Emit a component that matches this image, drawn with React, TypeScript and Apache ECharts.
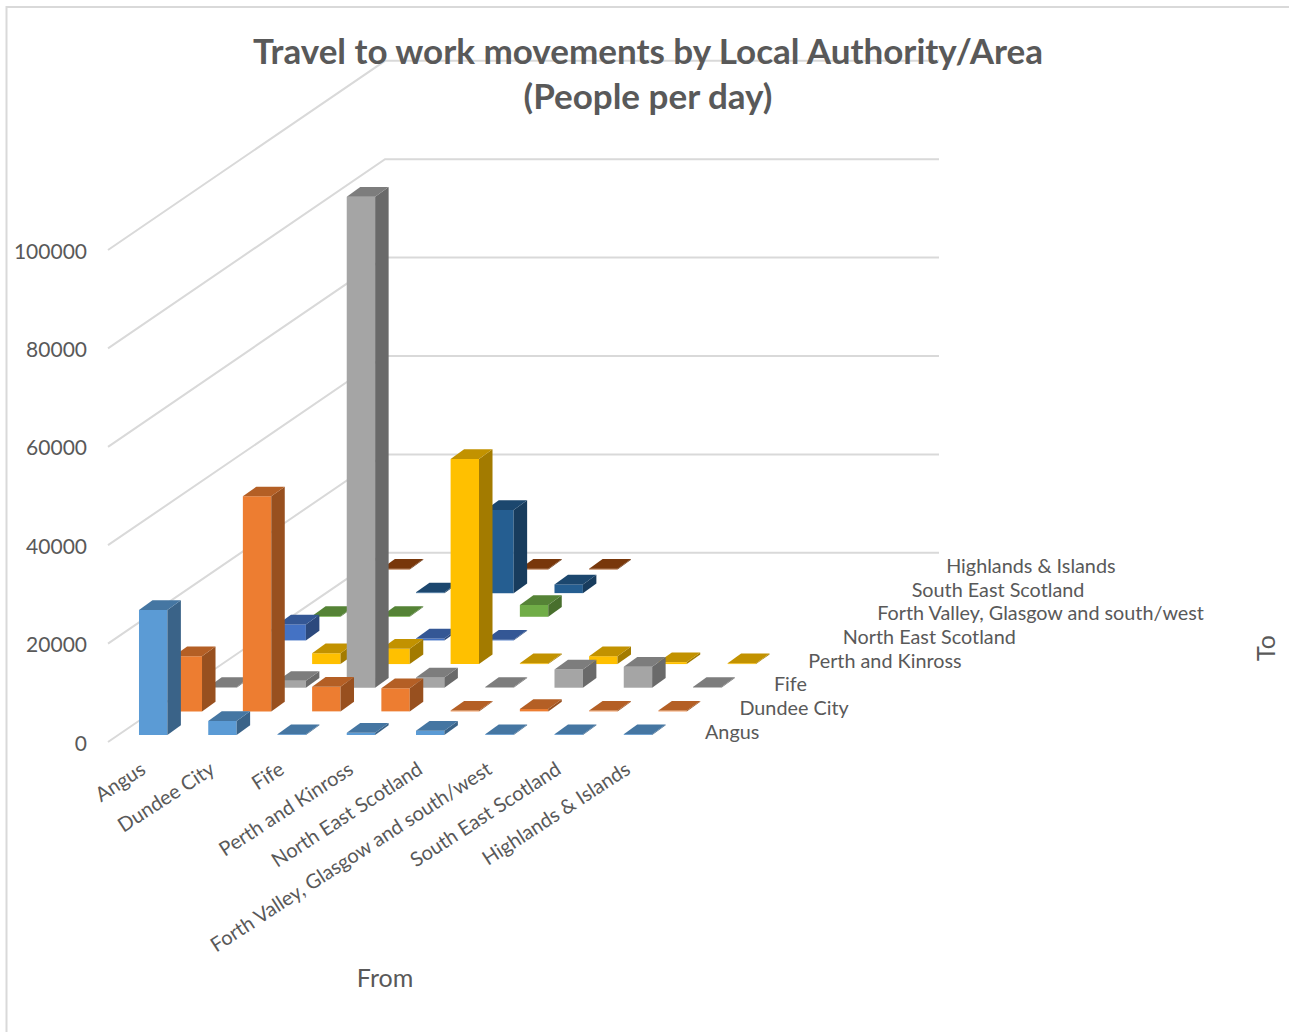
import React, { useEffect, useRef } from "react";
import * as echarts from "echarts";

// Origin areas along the front edge of the floor.
const fromAreas = [
  "Angus",
  "Dundee City",
  "Fife",
  "Perth and Kinross",
  "North East Scotland",
  "Forth Valley, Glasgow and south/west",
  "South East Scotland",
  "Highlands & Islands",
];

// Destination areas, front row to back row.
const toAreas = [
  "Angus",
  "Dundee City",
  "Fife",
  "Perth and Kinross",
  "North East Scotland",
  "Forth Valley, Glasgow and south/west",
  "South East Scotland",
  "Highlands & Islands",
];

const yTicks = [0, 20000, 40000, 60000, 80000, 100000];

// People per day travelling to each destination, indexed by origin.
const toAngus = [25400, 2850, 80, 450, 880, 80, 60, 60];
const toDundee = [11200, 43700, 5000, 4700, 80, 500, 100, 80];
const toFife = [120, 1400, 99800, 2100, 80, 3700, 4250, 80];
const toPerth = [null, 2200, 3100, 41700, 80, 1600, 400, 80];
const toNorthEast = [3250, null, 400, 80, null, null, null, null];
const toForthValley = [80, 80, null, 2400, null, null, null, null];
const toSouthEast = [null, 80, 16900, 1770, null, null, null, null];
const toHighlands = [80, null, 80, 80, null, null, null, null];

const rows = [toAngus, toDundee, toFife, toPerth, toNorthEast, toForthValley, toSouthEast, toHighlands];
const rowColors = ["#5B9BD5", "#ED7D31", "#A5A5A5", "#FFC000", "#4472C4", "#70AD47", "#255E91", "#9E480E"];

// Oblique projection of the depth axis, in pixels per row.
const ROW_DX = 34.625;
const ROW_DY = 23.65;
const LABEL_DX = 34.45;
const BAR_W = 28.4;
const BAR_DX = 13.5;
const BAR_DY = 9.7;

const FONT = "Lato";
const TEXT = "#595959";
const GRID = "#D9D9D9";

function shade(hex: string, k: number) {
  const n = parseInt(hex.slice(1), 16);
  const c = [(n >> 16) & 255, (n >> 8) & 255, n & 255].map((v) => Math.round(v * k));
  return `rgb(${c[0]},${c[1]},${c[2]})`;
}

// One projected column: front face, right face and top.
function barRenderer(rowIndex: number) {
  const color = rowColors[rowIndex];
  return (_params: any, api: any) => {
    const base = api.coord([api.value(0), 0]);
    const top = api.coord([api.value(0), api.value(1)]);
    const cx = base[0] + (rowIndex + 0.5) * ROW_DX - BAR_DX / 2;
    const cy = (y: number) => y - (rowIndex + 0.5) * ROW_DY + BAR_DY / 2;
    const l = cx - BAR_W / 2;
    const r = cx + BAR_W / 2;
    const y0 = cy(base[1]);
    const y1 = Math.min(cy(top[1]), y0 - 0.8);
    return {
      type: "group",
      children: [
        {
          type: "polygon",
          shape: { points: [[l, y0], [r, y0], [r, y1], [l, y1]] },
          style: { fill: color },
        },
        {
          type: "polygon",
          shape: { points: [[r, y0], [r + BAR_DX, y0 - BAR_DY], [r + BAR_DX, y1 - BAR_DY], [r, y1]] },
          style: { fill: shade(color, 0.64) },
        },
        {
          type: "polygon",
          shape: { points: [[l, y1], [r, y1], [r + BAR_DX, y1 - BAR_DY], [l + BAR_DX, y1 - BAR_DY]] },
          style: { fill: shade(color, 0.76) },
        },
      ],
    };
  };
}

// Gridline running along the side wall and then across the back wall.
function wallLineRenderer(_params: any, api: any) {
  const band = api.size([1, 0])[0];
  const p = api.coord([0, api.value(0)]);
  const x0 = p[0] - band / 2;
  const depthX = ROW_DX * toAreas.length;
  const depthY = ROW_DY * toAreas.length;
  return {
    type: "polyline",
    shape: {
      points: [
        [x0, p[1]],
        [x0 + depthX, p[1] - depthY],
        [x0 + depthX + band * fromAreas.length, p[1] - depthY],
      ],
    },
    style: { stroke: GRID, lineWidth: 2, fill: "none" },
  };
}

// Destination names along the right-hand edge of the floor.
function rowLabelRenderer(_params: any, api: any) {
  const i = api.value(0);
  const band = api.size([1, 0])[0];
  const p = api.coord([fromAreas.length - 1, 0]);
  return {
    type: "text",
    x: p[0] + band / 2 + 43 + i * LABEL_DX,
    y: p[1] - 11.5 - i * ROW_DY,
    style: {
      text: toAreas[i],
      fill: TEXT,
      font: `19.8px ${FONT}`,
      textAlign: "left",
      textVerticalAlign: "middle",
    },
  };
}

export default function App() {
  const ref = useRef<HTMLDivElement>(null);

  useEffect(() => {
    const chart = echarts.init(ref.current!, undefined, { renderer: "svg" });
    const barSeries = rows
      .map((values, rowIndex) => ({
        type: "custom",
        name: toAreas[rowIndex],
        silent: true,
        coordinateSystem: "cartesian2d",
        z: 3,
        encode: { x: 0, y: 1 },
        renderItem: barRenderer(rowIndex),
        data: values.map((v, i) => [i, v]).filter((d) => d[1] !== null),
      }))
      .reverse();

    chart.setOption({
      animation: false,
      backgroundColor: "#ffffff",
      title: {
        text: "Travel to work movements by Local Authority/Area\n(People per day)",
        left: 643,
        top: 22,
        textAlign: "center",
        textStyle: { color: TEXT, fontFamily: FONT, fontWeight: "bold", fontSize: 35, lineHeight: 45 },
      },
      grid: { left: 108, top: 250, width: 554, height: 492 },
      xAxis: {
        type: "category",
        data: fromAreas,
        name: "From",
        nameLocation: "middle",
        nameGap: 222,
        nameTextStyle: { color: TEXT, fontFamily: FONT, fontSize: 25 },
        axisLine: { show: false },
        axisTick: { show: false },
        axisLabel: {
          interval: 0,
          rotate: 33,
          margin: 24,
          color: TEXT,
          fontFamily: FONT,
          fontSize: 20,
          hideOverlap: false,
        },
      },
      yAxis: {
        type: "value",
        min: 0,
        max: yTicks[yTicks.length - 1],
        interval: yTicks[1],
        splitLine: { show: false },
        axisLine: { show: false },
        axisTick: { show: false },
        axisLabel: {
          margin: 21,
          color: TEXT,
          fontFamily: FONT,
          fontSize: 21,
          formatter: (v: number) => String(v),
        },
      },
      graphic: [
        {
          type: "polyline",
          silent: true,
          shape: { points: [[6.5, 1032], [6.5, 7], [1289, 7]] },
          style: { stroke: GRID, lineWidth: 2, fill: "none" },
        },
        {
          type: "text",
          x: 1265,
          y: 648,
          rotation: Math.PI / 2,
          style: {
            text: "To",
            fill: TEXT,
            font: `25px ${FONT}`,
            textAlign: "center",
            textVerticalAlign: "middle",
          },
        },
      ],
      series: [
        {
          type: "custom",
          name: "grid",
          silent: true,
          z: 1,
          encode: { y: 0 },
          renderItem: wallLineRenderer,
          data: yTicks.map((v) => [v]),
        },
        ...barSeries,
        {
          type: "custom",
          name: "to",
          silent: true,
          z: 4,
          renderItem: rowLabelRenderer,
          data: toAreas.map((_, i) => [i]),
        },
      ],
    });
    return () => chart.dispose();
  }, []);

  return <div ref={ref} style={{ position: "absolute", left: 0, top: 0, width: 1289, height: 1032 }} />;
}
